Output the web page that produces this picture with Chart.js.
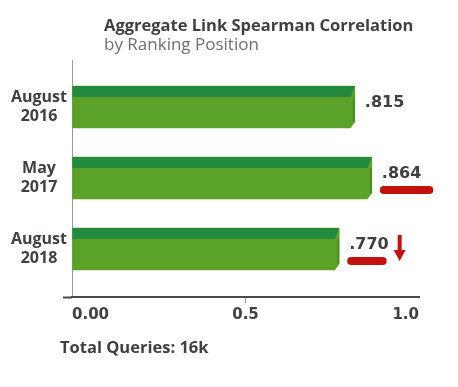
<!DOCTYPE html>
<html>
<head>
<meta charset="utf-8">
<script src="https://cdn.jsdelivr.net/npm/chart.js@4.4.1/dist/chart.umd.min.js"></script>
<style>
    html, body { margin: 0; padding: 0; background: #ffffff; }
    #wrap { width: 458px; height: 387px; position: relative; }
</style>
</head>
<body>
<div id="wrap"><canvas id="chart-spearman"></canvas></div>
<script>
// データ
const periods = [['August', '2016'], ['May', '2017'], ['August', '2018']];
const correlations = [0.815, 0.864, 0.770];
const xTickValues = [0, 0.5, 1];
const xTickLabels = ['0.00', '0.5', '1.0'];
const highlighted = [1, 2];      // 赤い下線を付ける行
const droppedRows = [2];         // 下向き矢印を付ける行

const titleText = 'Aggregate Link Spearman Correlation';
const subtitleText = 'by Ranking Position';
const footerText = 'Total Queries: 16k';

const FONT = "'Open Sans', 'Liberation Sans', sans-serif";
const NUM_FONT = "'DejaVu Sans', 'Open Sans', sans-serif";
const TEXT_DARK = '#3f4040';
const BAR_LIGHT = '#5ba229';
const BAR_DARK = '#248b3e';
const RED = '#c4100f';

const Y_MIN = -0.662;
const Y_MAX = 2.676;

const SpearmanChart = (() => {

    function formatValue(v) {
        return v.toFixed(3).replace(/^0/, '');
    }

    /**
     * タイトル・注記テキスト
     */
    const textPlugin = {
        id: 'textBlocks',
        afterDraw(chart) {
            const c = chart.ctx;
            c.save();
            c.textBaseline = 'middle';
            c.textAlign = 'left';
            c.fillStyle = TEXT_DARK;
            c.font = `bold 16.5px ${FONT}`;
            c.fillText(titleText, 104, 26);
            c.fillStyle = '#6f6f6f';
            c.font = `17px ${FONT}`;
            c.fillText(subtitleText, 104, 45);
            c.fillStyle = TEXT_DARK;
            c.font = `bold 16.5px ${FONT}`;
            c.fillText(footerText, 60, 348);
            c.restore();
        }
    };

    /**
     * バーの立体風装飾 + 値ラベル + 赤いマーカー
     */
    const barDecor = {
        id: 'barDecor',
        afterDatasetsDraw(chart) {
            const c = chart.ctx;
            const meta = chart.getDatasetMeta(0);
            c.save();
            meta.data.forEach((bar, i) => {
                const { x, y, base, height } = bar.getProps(['x', 'y', 'base', 'height'], true);
                const top = y - height / 2;
                const bottom = y + height / 2;
                const band = 11;

                // 上面（濃い緑）
                c.fillStyle = BAR_DARK;
                c.beginPath();
                c.moveTo(base, top);
                c.lineTo(x, top);
                c.lineTo(x - 4, top + band);
                c.lineTo(base, top + band);
                c.closePath();
                c.fill();

                // 右側面の影
                c.fillStyle = 'rgba(40, 110, 30, 0.35)';
                c.fillRect(x - 2, top + band, 2, height - band - 6);

                // 右下の面取り
                c.fillStyle = '#ffffff';
                c.beginPath();
                c.moveTo(x + 1, bottom - 7);
                c.lineTo(x + 1, bottom + 1);
                c.lineTo(x - 5, bottom + 1);
                c.closePath();
                c.fill();

                // 値ラベル
                const label = formatValue(correlations[i]);
                c.font = `bold 16px ${NUM_FONT}`;
                c.fillStyle = TEXT_DARK;
                c.textAlign = 'left';
                c.textBaseline = 'middle';
                const lx = x + 10;
                const ly = y - 4;
                c.fillText(label, lx, ly);
                const w = c.measureText(label).width;

                if (highlighted.includes(i)) {
                    const extra = droppedRows.includes(i) ? -2 : 12;
                    c.strokeStyle = RED;
                    c.lineWidth = 8;
                    c.lineCap = 'round';
                    c.beginPath();
                    c.moveTo(lx + 2, ly + 16);
                    c.lineTo(lx + w + extra - 4, ly + 16);
                    c.stroke();
                }

                if (droppedRows.includes(i)) {
                    const ax = lx + w + 11;
                    c.fillStyle = RED;
                    c.fillRect(ax - 2, ly - 10, 4, 17);
                    c.beginPath();
                    c.moveTo(ax - 6, ly + 5);
                    c.lineTo(ax + 6, ly + 5);
                    c.lineTo(ax, ly + 16);
                    c.closePath();
                    c.fill();
                }
            });
            c.restore();
        }
    };

    function render() {
        const ctx = document.getElementById('chart-spearman').getContext('2d');

        return new Chart(ctx, {
            type: 'bar',
            data: {
                datasets: [{
                    data: correlations.map((v, i) => ({ x: v, y: i })),
                    backgroundColor: BAR_LIGHT,
                    borderWidth: 0,
                    barThickness: 42
                }]
            },
            options: {
                indexAxis: 'y',
                responsive: true,
                maintainAspectRatio: false,
                animation: false,
                layout: { padding: { top: 60, right: 39, bottom: 60, left: 0 } },
                scales: {
                    x: {
                        type: 'linear',
                        min: 0,
                        max: 1,
                        afterBuildTicks: (axis) => {
                            axis.ticks = xTickValues.map(v => ({ value: v }));
                        },
                        afterFit: (axis) => { axis.height = 30; },
                        border: { display: true, color: '#4a4a4a', width: 2 },
                        grid: {
                            drawOnChartArea: true,
                            color: (c) => c.tick && c.tick.value === 0 ? '#9a9a9a' : 'rgba(0,0,0,0)',
                            tickColor: (c) => c.tick && c.tick.value === 0.5 ? '#9a9a9a' : 'rgba(0,0,0,0)',
                            tickLength: 6,
                            lineWidth: 1
                        },
                        ticks: {
                            align: 'inner',
                            padding: 3,
                            color: TEXT_DARK,
                            font: { family: NUM_FONT, size: 15, weight: 'bold' },
                            callback: (value) => {
                                const k = xTickValues.indexOf(value);
                                return k >= 0 ? xTickLabels[k] : '';
                            }
                        }
                    },
                    y: {
                        type: 'linear',
                        reverse: true,
                        offset: false,
                        min: Y_MIN,
                        max: Y_MAX,
                        afterBuildTicks: (axis) => {
                            // 最下端の目盛りは x 軸線を左へ延ばすためだけに使う
                            axis.ticks = periods.map((p, i) => ({ value: i })).concat([{ value: Y_MAX }]);
                        },
                        afterFit: (axis) => { axis.width = 72; },
                        border: { display: false },
                        grid: {
                            display: true,
                            offset: false,
                            drawOnChartArea: false,
                            tickLength: 9,
                            tickWidth: 2,
                            tickColor: (c) => c.tick && c.tick.value === Y_MAX ? '#4a4a4a' : 'rgba(0,0,0,0)'
                        },
                        ticks: {
                            crossAlign: 'center',
                            padding: -4,
                            color: TEXT_DARK,
                            font: { family: FONT, size: 16, weight: 'bold', lineHeight: 1.15 },
                            callback: (value) => periods[value] || ''
                        }
                    }
                },
                plugins: {
                    legend: { display: false },
                    tooltip: { enabled: false }
                }
            },
            plugins: [textPlugin, barDecor]
        });
    }

    return { render };
})();

SpearmanChart.render();
</script>
</body>
</html>
